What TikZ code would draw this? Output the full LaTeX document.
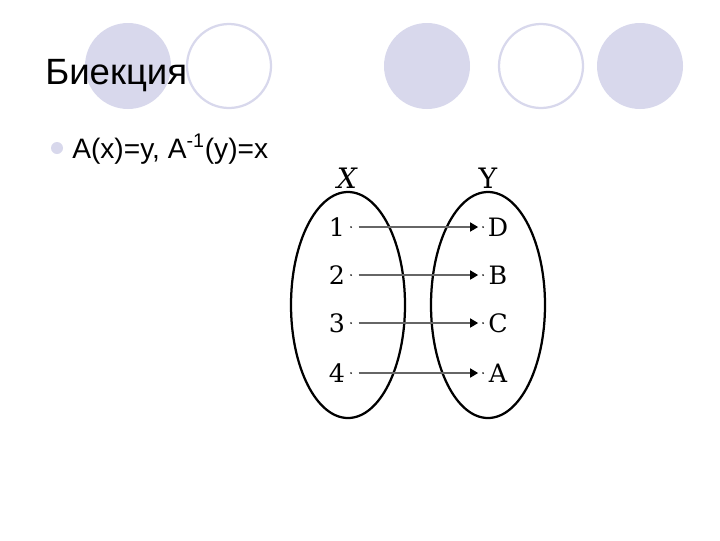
\documentclass[tikz,border=0pt]{standalone}
\usepackage{fontspec}
\setmainfont{Liberation Sans}
\newfontfamily\diagfont{DejaVu Serif}
\usetikzlibrary{arrows.meta}
\definecolor{lavender}{RGB}{216,216,236}

\begin{document}
\begin{tikzpicture}[x=0.025cm,y=-0.025cm]
\useasboundingbox (0,0) rectangle (720,540);
%\draw[step=20,gray,very thin] (0,0) grid (720,540); %background grid

% decoration circles
\fill[lavender] (128,66) circle (43);
\draw[lavender, line width=1.6pt] (229,66) circle (42);
\fill[lavender] (427,66) circle (43);
\draw[lavender, line width=1.6pt] (541,66) circle (42);
\fill[lavender] (640,66) circle (43);

\node[anchor=base west, inner sep=0, font=\fontsize{26}{30}\selectfont] (title) at (45,84) {Биекция};

\fill[lavender] (57,148) circle (6);
\node[anchor=base west, inner sep=0, font=\fontsize{20}{24}\selectfont] (item) at (72,158) {A(x)=y, A\textsuperscript{-1}(y)=x};

% sets
\draw[line width=1.6pt] (348,305) ellipse [x radius=57, y radius=113];
\draw[line width=1.6pt] (488,305) ellipse [x radius=57, y radius=113];

\node[font=\diagfont\fontsize{20}{24}\selectfont\itshape] (setx) at (347,178) {X};
\node[font=\diagfont\fontsize{20}{24}\selectfont] (sety) at (488,178) {Y};

% elements
\node[font=\diagfont\fontsize{18}{21}\selectfont] (x1) at (337,227) {1};
\node[font=\diagfont\fontsize{18}{21}\selectfont] (x2) at (337,275) {2};
\node[font=\diagfont\fontsize{18}{21}\selectfont] (x3) at (337,323) {3};
\node[font=\diagfont\fontsize{18}{21}\selectfont] (x4) at (337,373) {4};

\node[font=\diagfont\fontsize{18}{21}\selectfont] (y1) at (498,227) {D};
\node[font=\diagfont\fontsize{18}{21}\selectfont] (y2) at (498,275) {B};
\node[font=\diagfont\fontsize{18}{21}\selectfont] (y3) at (498,323) {C};
\node[font=\diagfont\fontsize{18}{21}\selectfont] (y4) at (498,373) {A};

\node[circle, fill, inner sep=0.5pt] (a1) at (351,227) {};
\node[circle, fill, inner sep=0.5pt] (a2) at (351,275) {};
\node[circle, fill, inner sep=0.5pt] (a3) at (351,323) {};
\node[circle, fill, inner sep=0.5pt] (a4) at (351,373) {};

\node[circle, fill, inner sep=0.5pt] (b1) at (483,227) {};
\node[circle, fill, inner sep=0.5pt] (b2) at (483,275) {};
\node[circle, fill, inner sep=0.5pt] (b3) at (483,323) {};
\node[circle, fill, inner sep=0.5pt] (b4) at (483,373) {};

% mapping
\draw[black!60, line width=1.6pt, -{Triangle[length=2mm,width=2.2mm,color=black]}, shorten <=4.5pt, shorten >=2.5pt] (a1) -- (b1);
\draw[black!60, line width=1.6pt, -{Triangle[length=2mm,width=2.2mm,color=black]}, shorten <=4.5pt, shorten >=2.5pt] (a2) -- (b2);
\draw[black!60, line width=1.6pt, -{Triangle[length=2mm,width=2.2mm,color=black]}, shorten <=4.5pt, shorten >=2.5pt] (a3) -- (b3);
\draw[black!60, line width=1.6pt, -{Triangle[length=2mm,width=2.2mm,color=black]}, shorten <=4.5pt, shorten >=2.5pt] (a4) -- (b4);

\end{tikzpicture}
\end{document}
